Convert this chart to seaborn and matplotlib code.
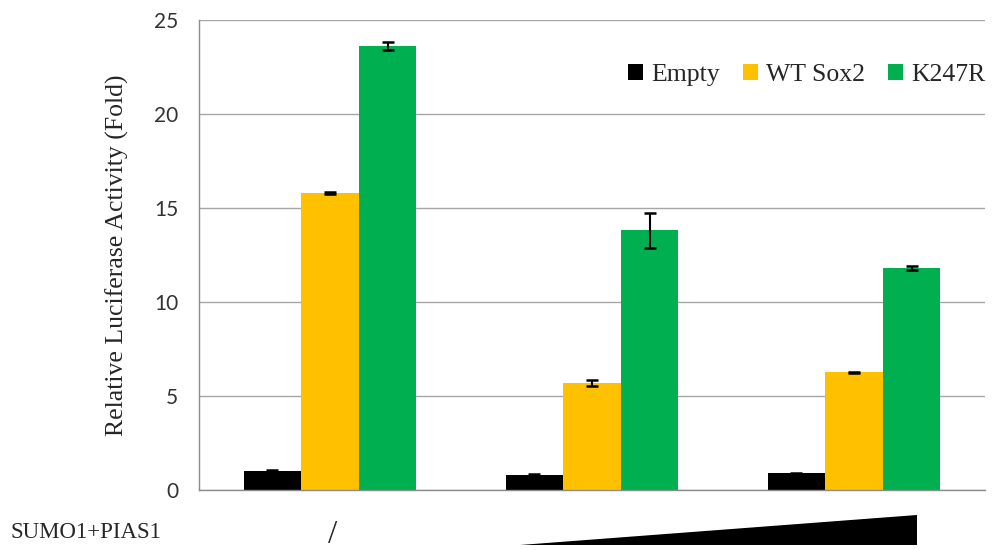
import matplotlib
matplotlib.use("Agg")
import matplotlib.pyplot as plt
import matplotlib.transforms as mtransforms
from matplotlib.patches import Polygon
import numpy as np
import pandas as pd
import seaborn as sns

# Conditions along the x axis and constructs in each group
conditions = ["none", "low", "high"]
constructs = ["Empty", "WT Sox2", "K247R"]

empty_mean = [1.0, 0.82, 0.88]
wt_mean = [15.8, 5.7, 6.25]
k247r_mean = [23.6, 13.8, 11.8]

empty_err = [0.06, 0.05, 0.05]
wt_err = [0.06, 0.15, 0.05]
k247r_err = [0.2, 0.95, 0.1]

colors = ["#000000", "#FFC000", "#00B050"]

means = [empty_mean, wt_mean, k247r_mean]
errs = [empty_err, wt_err, k247r_err]
df = pd.DataFrame({
    "condition": np.repeat([conditions], 3, axis=0).ravel(),
    "construct": np.repeat(constructs, 3),
    "value": np.concatenate(means),
    "err": np.concatenate(errs),
})

sns.set_style("white")
serif = ["Liberation Serif", "DejaVu Serif"]
sans = ["Lato", "DejaVu Sans"]

fig = plt.figure(figsize=(10, 5.5), dpi=100)
ax = fig.add_axes([0.199, 0.109, 0.786, 0.855])

sns.barplot(data=df, x="condition", y="value", hue="construct",
            order=conditions, hue_order=constructs, palette=colors,
            errorbar=None, width=0.66, saturation=1, linewidth=0,
            ax=ax, zorder=2)

# error bars centred on each bar
for container, c in zip(ax.containers, constructs):
    sub = df[df["construct"] == c].set_index("condition").loc[conditions]
    xs = [p.get_x() + p.get_width() / 2 for p in container.patches]
    ax.errorbar(xs, sub["value"], yerr=sub["err"], fmt="none",
                ecolor="black", elinewidth=1.5, capsize=4.5, capthick=1.8,
                zorder=3)

ax.set_xlim(-0.5, 2.5)
ax.set_ylim(0, 25)
ax.set_yticks([0, 5, 10, 15, 20, 25])
ax.yaxis.grid(True, color="#a6a6a6", linewidth=1)
ax.set_axisbelow(True)
ax.set_xticks([])
ax.set_xlabel("")
ax.set_ylabel("Relative Luciferase Activity (Fold)", fontsize=18.5,
              family=serif, labelpad=18)
for s in ["top", "right"]:
    ax.spines[s].set_visible(False)
for s in ["left", "bottom"]:
    ax.spines[s].set_color("#8c8c8c")
    ax.spines[s].set_linewidth(1)
ax.tick_params(axis="y", length=8, color="#8c8c8c", width=1,
               labelsize=15, pad=7)
for lbl in ax.get_yticklabels():
    lbl.set_family(sans)
    lbl.set_color("#333333")

leg = ax.legend(loc="upper right", bbox_to_anchor=(1.03, 0.955), ncol=3,
                frameon=False, handlelength=0.6, handleheight=0.6,
                handletextpad=0.3, columnspacing=0.9,
                prop={"family": serif, "size": 18.5})

# treatment annotation below the axis
blend = mtransforms.blended_transform_factory(ax.transData, fig.transFigure)
fig.text(0.01, 1 - 532 / 550, "SUMO1+PIAS1", family=serif, fontsize=16.5,
         va="center", ha="left")
ax.text(0.01, 1 - 535 / 550, "/", transform=blend, family=serif,
        fontsize=24, va="center", ha="center")
wedge = Polygon([(0.725, 1 - 545 / 550), (2.24, 1 - 545 / 550),
                 (2.24, 1 - 515 / 550)], closed=True, transform=blend,
                facecolor="black", edgecolor="none", clip_on=False)
fig.add_artist(wedge)

fig.savefig("out.png", dpi=100)
